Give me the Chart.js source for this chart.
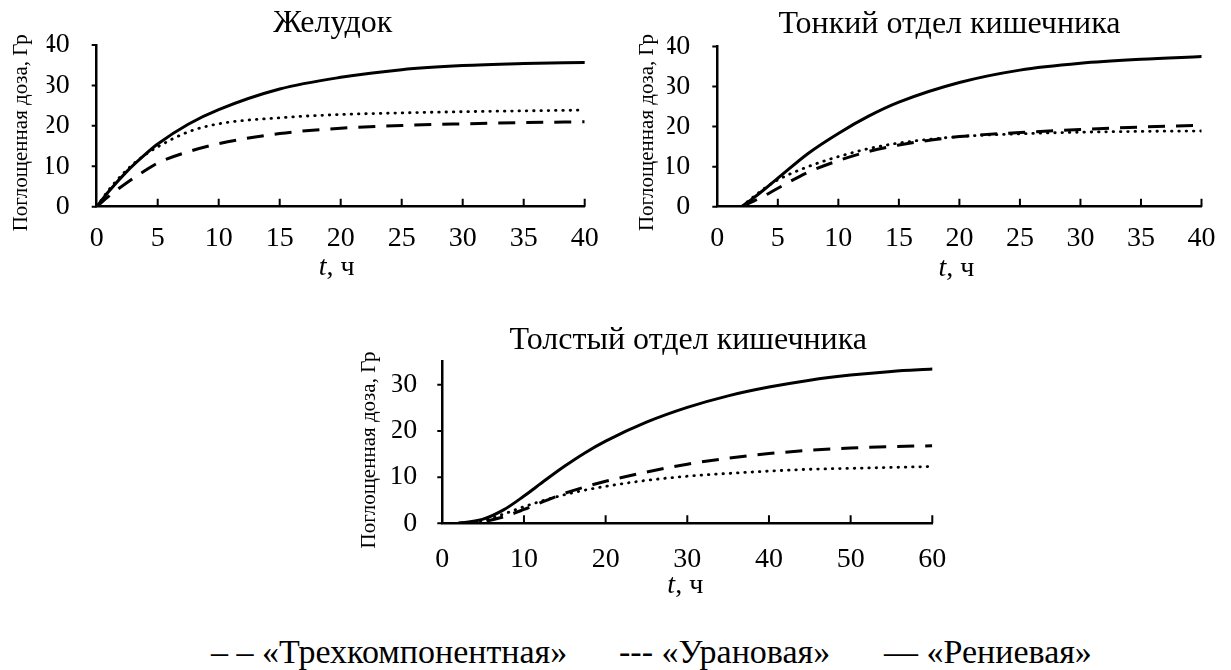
<!DOCTYPE html>
<html lang="ru">
<head>
<meta charset="utf-8">
<title>Поглощенная доза</title>
<script src="https://cdn.jsdelivr.net/npm/chart.js@4.4.1/dist/chart.umd.min.js"></script>
<style>
    html, body { margin: 0; padding: 0; background: #fff; }
    body { width: 1231px; height: 670px; position: relative; overflow: hidden; font-family: "Liberation Serif", "Times New Roman", serif; }
    canvas { position: absolute; }
    #c1 { left: 0; top: 0; }
    #c2 { left: 615px; top: 0; }
    #c3 { left: 330px; top: 300px; }
    .leg { position: absolute; top: 635px; font-size: 34px; line-height: 34px; white-space: pre; color: #000; }
</style>
</head>
<body>
<canvas id="c1" width="615" height="300"></canvas>
<canvas id="c2" width="616" height="300"></canvas>
<canvas id="c3" width="660" height="310"></canvas>
<div id="legend"></div>

<script>
// ================================================================
// DATA
// ================================================================

const SERIES_NAMES = ['«Трехкомпонентная»', '«Урановая»', '«Рениевая»'];
const SERIES_MARKS = ['– –', '---', '—'];

// Желудок
const T_STOMACH = [0, 1, 2.5, 4, 5, 7.5, 10, 15, 20, 25, 30, 35, 40];
const TRI_STOMACH = [0, 2.6, 6.0, 9.0, 10.8, 13.6, 15.6, 18.1, 19.4, 20.1, 20.5, 20.8, 21.0];
const U_STOMACH = [0, 4.2, 9.2, 12.9, 14.8, 18.5, 20.5, 22.0, 22.8, 23.2, 23.5, 23.7, 23.9];
const RE_STOMACH = [0, 3.8, 8.8, 13.0, 15.5, 20.4, 24.0, 29.1, 32.0, 33.9, 34.9, 35.4, 35.7];

// Тонкий отдел кишечника
const T_SMALL = [2, 3, 4, 5, 7.5, 10, 12.5, 15, 20, 25, 30, 35, 40];
const TRI_SMALL = [0, 1.4, 2.9, 4.6, 8.6, 11.5, 13.8, 15.4, 17.5, 18.5, 19.3, 19.9, 20.3];
const U_SMALL = [0, 2.5, 4.8, 6.7, 10.0, 12.5, 14.5, 15.9, 17.5, 18.2, 18.6, 18.8, 18.9];
const RE_SMALL = [0, 2.2, 4.6, 7.1, 13.3, 18.3, 22.6, 26.1, 31.0, 34.1, 35.8, 36.8, 37.5];

// Толстый отдел кишечника
const T_LARGE = [2, 5, 7.5, 10, 12.5, 15, 17.5, 20, 25, 30, 35, 40, 45, 50, 55, 60];
const TRI_LARGE = [0, 0.4, 1.4, 3.0, 4.8, 6.5, 7.9, 9.1, 11.1, 12.8, 14.1, 15.1, 15.8, 16.3, 16.6, 16.8];
const U_LARGE = [0, 0.6, 2.0, 3.6, 5.0, 6.2, 7.2, 8.0, 9.3, 10.2, 10.8, 11.3, 11.7, 11.9, 12.1, 12.3];
const RE_LARGE = [0, 0.9, 2.9, 5.9, 9.2, 12.4, 15.3, 17.8, 21.9, 25.1, 27.6, 29.5, 31.0, 32.1, 32.9, 33.4];

const Y_LABEL = 'Поглощенная доза, Гр';

// ================================================================
// STYLE
// ================================================================

const FONT = '"Liberation Serif", "Times New Roman", serif';

const LINE_STYLES = {
    dashed: { borderWidth: 3, borderDash: [17, 11], borderCapStyle: 'butt' },
    dotted: { borderWidth: 2.8, borderDash: [0.5, 6.8], borderCapStyle: 'round' },
    solid: { borderWidth: 3, borderDash: [], borderCapStyle: 'round' }
};

Chart.defaults.font.family = FONT;
Chart.defaults.color = '#000';

// ================================================================
// DECOR PLUGIN: inner ticks, panel title, axis titles
// ================================================================

const panelDecor = {
    id: 'panelDecor',
    afterDraw(chart, args, opts) {
        const { ctx, chartArea: a, scales: { x, y } } = chart;
        ctx.save();

        // tick marks: x inside, y outside
        ctx.strokeStyle = '#000';
        ctx.lineWidth = 2;
        ctx.beginPath();
        x.ticks.forEach(t => {
            if (t.value === x.min) return;
            const px = x.getPixelForValue(t.value);
            ctx.moveTo(px, a.bottom);
            ctx.lineTo(px, a.bottom - 8);
        });
        y.ticks.forEach(t => {
            const py = y.getPixelForValue(t.value);
            ctx.moveTo(a.left, py);
            ctx.lineTo(a.left - 5, py);
        });
        ctx.stroke();

        ctx.fillStyle = '#000';
        ctx.textBaseline = 'alphabetic';
        const cx = (a.left + a.right) / 2;

        // panel title
        ctx.font = `32px ${FONT}`;
        ctx.textAlign = 'center';
        ctx.fillText(opts.title, cx + opts.titleDx, a.top - opts.titleGap);

        // y axis title
        ctx.save();
        ctx.translate(a.left - opts.yLabelGap, (a.top + a.bottom) / 2 + opts.yLabelDy);
        ctx.rotate(-Math.PI / 2);
        ctx.font = `21px ${FONT}`;
        ctx.fillText(Y_LABEL, 0, 0);
        ctx.restore();

        // x axis title: italic t + ", ч"
        ctx.textAlign = 'left';
        ctx.font = `italic 28px ${FONT}`;
        const wt = ctx.measureText('t').width;
        ctx.font = `28px ${FONT}`;
        const wr = ctx.measureText(', ч').width;
        const x0 = cx + opts.xLabelDx - (wt + wr) / 2;
        const yb = a.bottom + opts.xLabelGap;
        ctx.font = `italic 28px ${FONT}`;
        ctx.fillText('t', x0, yb);
        ctx.font = `28px ${FONT}`;
        ctx.fillText(', ч', x0 + wt, yb);

        ctx.restore();
    }
};

// ================================================================
// CHART FACTORY
// ================================================================

function makeDataset(label, times, values, style) {
    return {
        label: label,
        data: times.map((t, i) => ({ x: t, y: values[i] })),
        borderColor: '#000',
        backgroundColor: '#000',
        pointRadius: 0,
        fill: false,
        cubicInterpolationMode: 'monotone',
        ...LINE_STYLES[style]
    };
}

function makePanel(id, cfg) {
    const ctx = document.getElementById(id).getContext('2d');
    const axisBorder = { display: true, color: '#000', width: 2.5 };
    return new Chart(ctx, {
        type: 'line',
        data: {
            datasets: [
                makeDataset(SERIES_NAMES[2], cfg.times, cfg.re, 'solid'),
                makeDataset(SERIES_NAMES[1], cfg.times, cfg.u, 'dotted'),
                makeDataset(SERIES_NAMES[0], cfg.times, cfg.tri, 'dashed')
            ]
        },
        options: {
            responsive: false,
            animation: false,
            devicePixelRatio: 1,
            layout: { padding: cfg.padding },
            plugins: {
                legend: { display: false },
                title: { display: false },
                tooltip: { enabled: false },
                panelDecor: cfg.decor
            },
            scales: {
                x: {
                    type: 'linear',
                    bounds: 'data',
                    min: 0,
                    max: cfg.xMax,
                    grid: { display: false, drawTicks: false },
                    border: axisBorder,
                    ticks: { stepSize: cfg.xStep, padding: cfg.xTickPad, maxRotation: 0, font: { size: 28 } },
                    afterFit: s => { s.height = 50; }
                },
                y: {
                    type: 'linear',
                    bounds: 'data',
                    min: 0,
                    max: cfg.yMax,
                    grid: { display: false, drawTicks: false },
                    border: axisBorder,
                    ticks: { stepSize: 10, padding: cfg.yTickPad, font: { size: 28 } },
                    // only whole tens get a label (the 35 top of the third panel has none)
                    afterBuildTicks: s => { s.ticks = s.ticks.filter(t => t.value % 10 === 0); },
                    afterFit: s => { s.width = 50; }
                }
            }
        },
        plugins: [panelDecor]
    });
}

makePanel('c1', {
    times: T_STOMACH, tri: TRI_STOMACH, u: U_STOMACH, re: RE_STOMACH,
    xMax: 40, xStep: 5, yMax: 40,
    padding: { left: 46.7, right: 30.3, top: 45, bottom: 43.3 },
    xTickPad: 15.5, yTickPad: 27,
    decor: { title: 'Желудок', titleDx: -8, titleGap: 13, yLabelGap: 70, yLabelDy: 7, xLabelDx: -4, xLabelGap: 68 }
});

makePanel('c2', {
    times: T_SMALL, tri: TRI_SMALL, u: U_SMALL, re: RE_SMALL,
    xMax: 40, xStep: 5, yMax: 40,
    padding: { left: 52.3, right: 25.7, top: 46.5, bottom: 43.3 },
    xTickPad: 15.5, yTickPad: 27,
    decor: { title: 'Тонкий отдел кишечника', titleDx: -10, titleGap: 14, yLabelGap: 64, yLabelDy: 6, xLabelDx: -3, xLabelGap: 69 }
});

makePanel('c3', {
    times: T_LARGE, tri: TRI_LARGE, u: U_LARGE, re: RE_LARGE,
    xMax: 60, xStep: 10, yMax: 35,
    padding: { left: 62.3, right: 57.7, top: 61.7, bottom: 36.7 },
    xTickPad: 20, yTickPad: 25,
    decor: { title: 'Толстый отдел кишечника', titleDx: 1, titleGap: 13, yLabelGap: 67, yLabelDy: 7.5, xLabelDx: -2, xLabelGap: 70 }
});

// ================================================================
// LEGEND (plain text line under the panels)
// ================================================================

const LEGEND_LEFT = [211, 619, 884];
const legend = document.getElementById('legend');
SERIES_NAMES.forEach((name, i) => {
    const span = document.createElement('span');
    span.className = 'leg';
    span.style.left = LEGEND_LEFT[i] + 'px';
    span.textContent = `${SERIES_MARKS[i]} ${name}`;
    legend.appendChild(span);
});
</script>
</body>
</html>
